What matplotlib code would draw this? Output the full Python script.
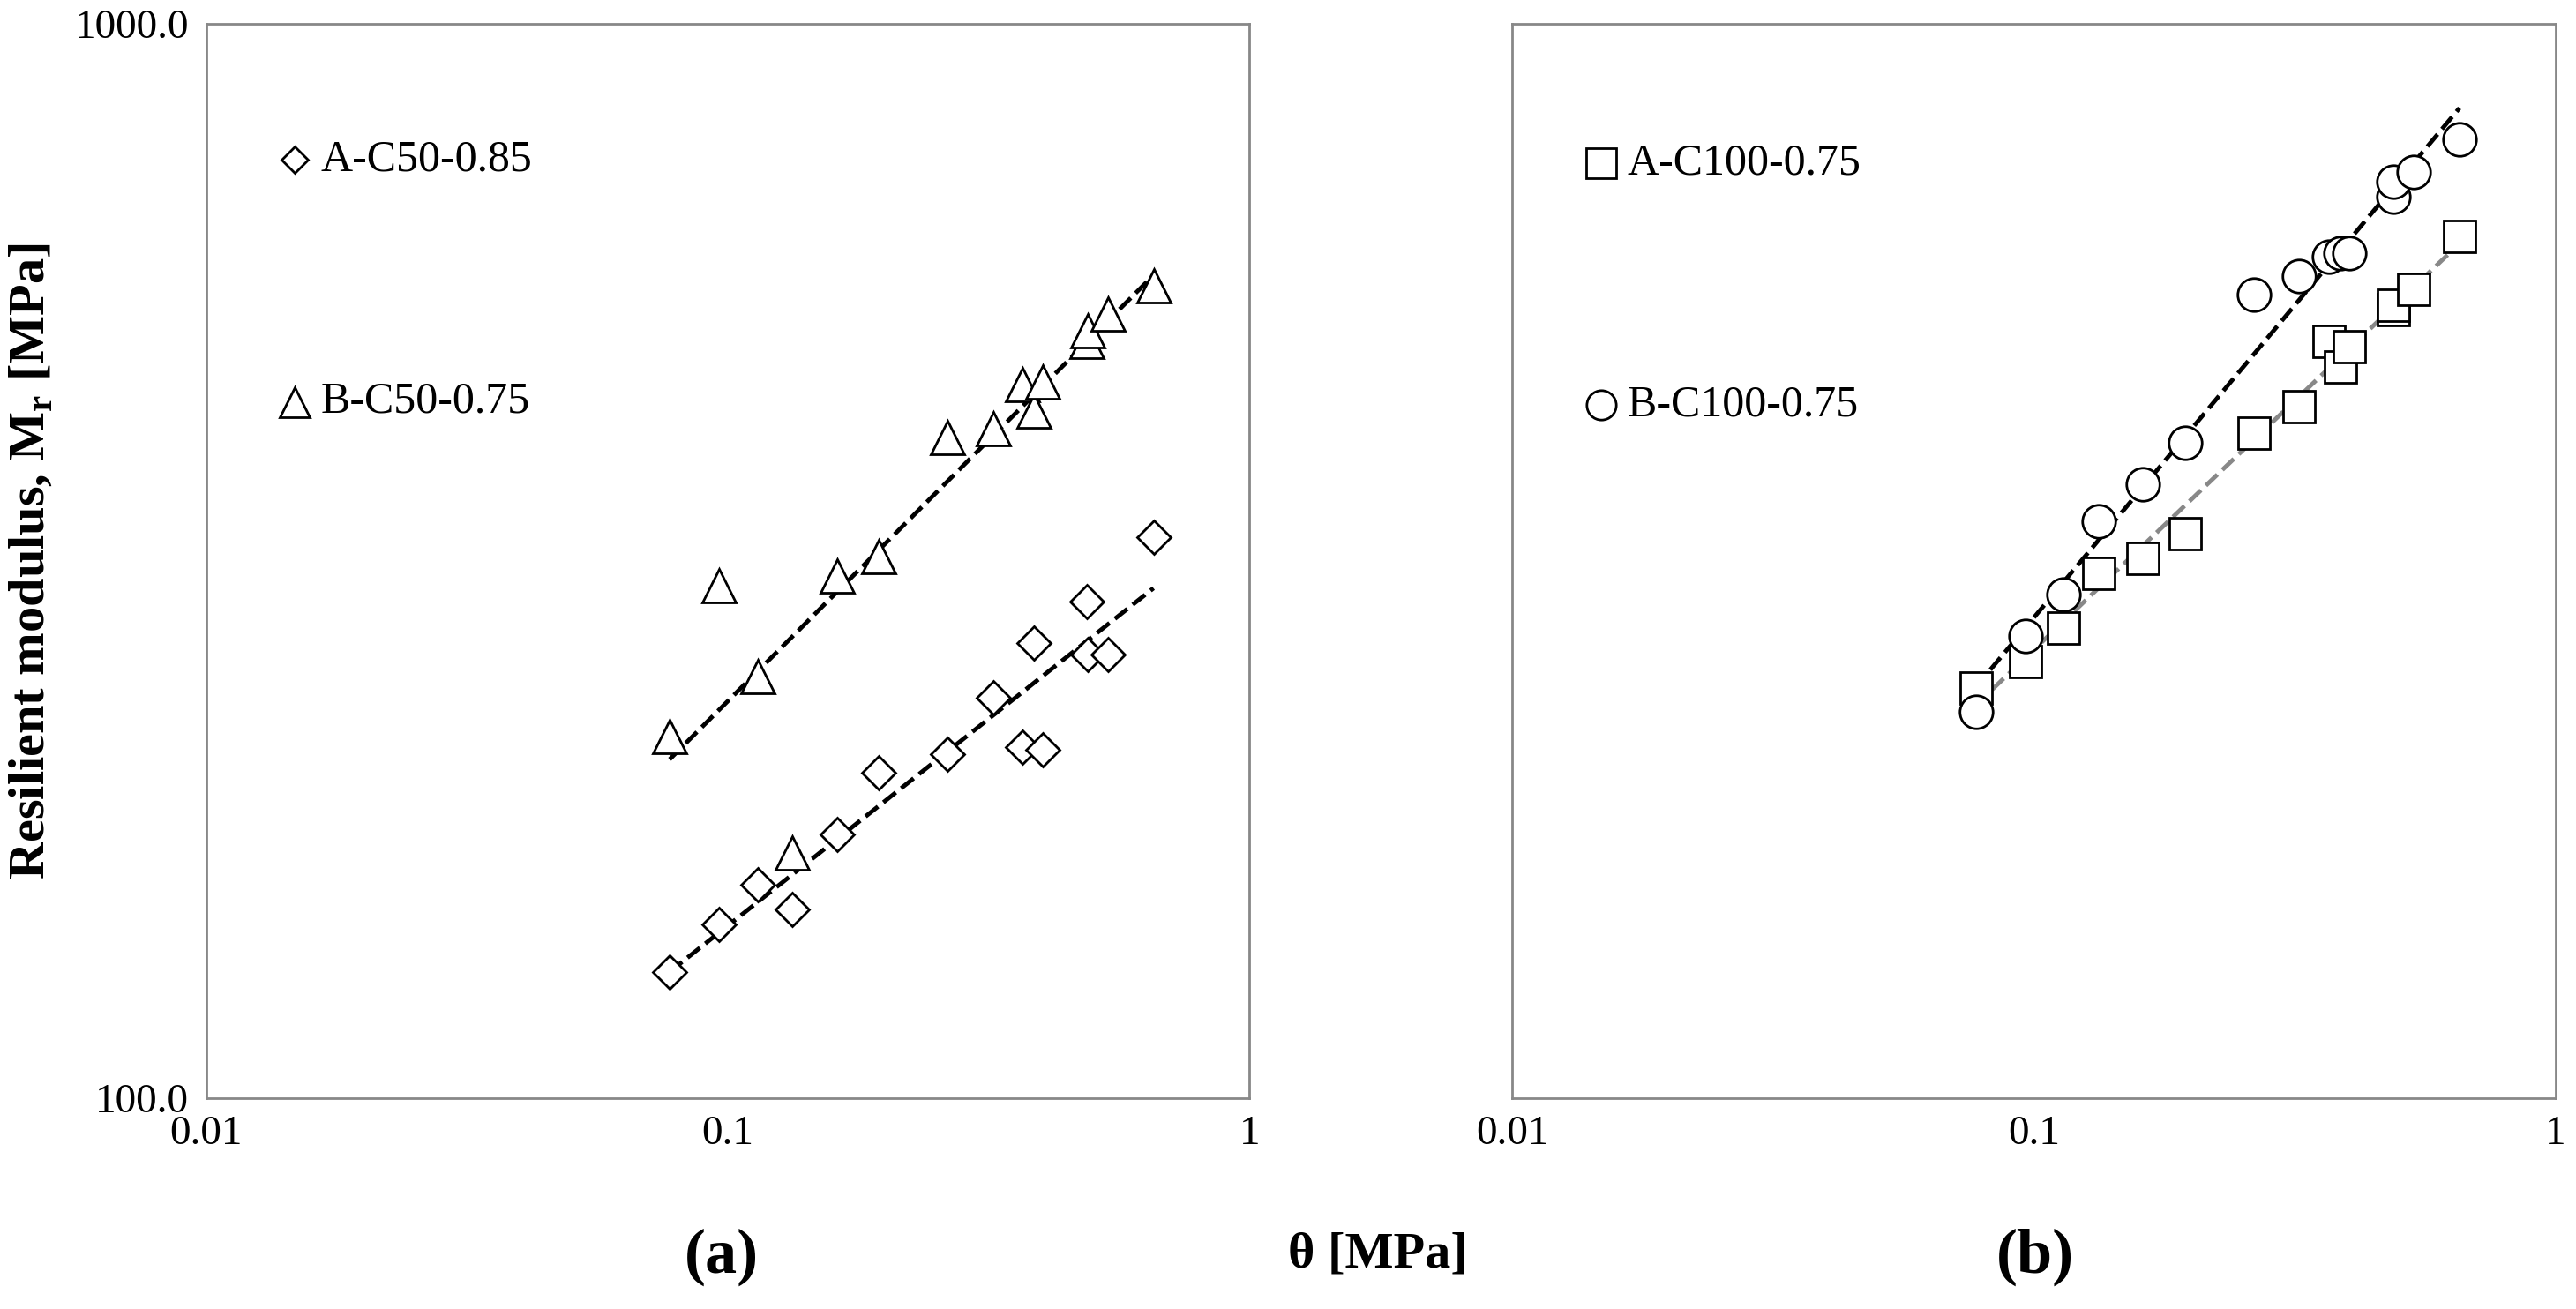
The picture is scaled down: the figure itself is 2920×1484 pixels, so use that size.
import numpy as np
import matplotlib.pyplot as plt

theta = [0.0774, 0.0964, 0.114, 0.133, 0.162, 0.195, 0.264, 0.323, 0.368, 0.387, 0.402, 0.489, 0.49, 0.535, 0.655]
a_c50 = [131, 145, 158, 150, 176, 201, 209, 236, 212, 265, 211, 290, 259, 259, 333]
b_c50 = [217, 300, 247, 169, 306, 319, 412, 420, 461, 436, 464, 506, 518, 537, 570]
a_c100 = [241, 255, 274, 308, 318, 335, 416, 440, 506, 479, 500, 542, 547, 566, 634]
b_c100 = [229, 269, 294, 344, 373, 407, 560, 582, 607, 611, 611, 690, 712, 727, 781]

plt.rcParams['font.family'] = ['Liberation Serif', 'DejaVu Serif']
fig = plt.figure(figsize=(29.2, 14.84), dpi=100)
ax1 = fig.add_axes([0.080, 0.161, 0.405, 0.821])
ax2 = fig.add_axes([0.587, 0.161, 0.405, 0.821])


def fit_line(ax, x, y, color):
    x = np.array(x); y = np.array(y)
    b, a = np.polyfit(np.log10(x), np.log10(y), 1)
    xs = np.array([x.min(), x.max()])
    ax.plot(xs, 10 ** (a + b * np.log10(xs)), '--', color=color, lw=3.5, zorder=1)


def series(ax, x, y, marker, ms):
    ax.plot(x, y, linestyle='none', marker=marker, ms=ms, mfc='white', mec='black', mew=2, zorder=2)


series(ax1, theta, a_c50, 'D', 19)
series(ax1, theta, b_c50, '^', 28)
fit_line(ax1, theta, a_c50, 'black')
fit_line(ax1, theta, b_c50, 'black')

series(ax2, theta, a_c100, 's', 26)
series(ax2, theta, b_c100, 'o', 27)
fit_line(ax2, theta, b_c100, 'black')
fit_line(ax2, theta, a_c100, '#888888')

legends = [(ax1, 'D', 15, 'A-C50-0.85', 0.873), (ax1, '^', 24, 'B-C50-0.75', 0.648),
           (ax2, 's', 24, 'A-C100-0.75', 0.870), (ax2, 'o', 24, 'B-C100-0.75', 0.645)]
for ax, m, ms, lab, yy in legends:
    ax.plot([0.085], [yy], transform=ax.transAxes, marker=m, ms=ms, mfc='white', mec='black',
            mew=2, linestyle='none', clip_on=False)
    ax.text(0.11, yy, lab, transform=ax.transAxes, fontsize=36, va='center')

for ax in (ax1, ax2):
    ax.set_xscale('log')
    ax.set_yscale('log')
    ax.set_xlim(0.01, 1)
    ax.set_ylim(100, 1000)
    ax.set_xticks([0.01, 0.1, 1])
    ax.set_xticklabels(['0.01', '0.1', '1'])
    ax.minorticks_off()
    ax.tick_params(length=0, labelsize=34, pad=14)
    for s in ax.spines.values():
        s.set_color('#888888')
        s.set_linewidth(2)

ax1.set_yticks([100, 1000])
ax1.set_yticklabels(['100.0', '1000.0'])
ax2.set_yticks([])
ax1.set_ylabel('Resilient modulus, M$_\\mathregular{r}$ [MPa]', fontsize=42, fontweight='bold', labelpad=16)

fig.text(0.28, 0.028, '(a)', fontsize=52, fontweight='bold', ha='center')
fig.text(0.79, 0.028, '(b)', fontsize=52, fontweight='bold', ha='center')
fig.text(0.535, 0.032, 'θ [MPa]', fontsize=42, fontweight='bold', ha='center')

fig.savefig('out.png', dpi=100)
